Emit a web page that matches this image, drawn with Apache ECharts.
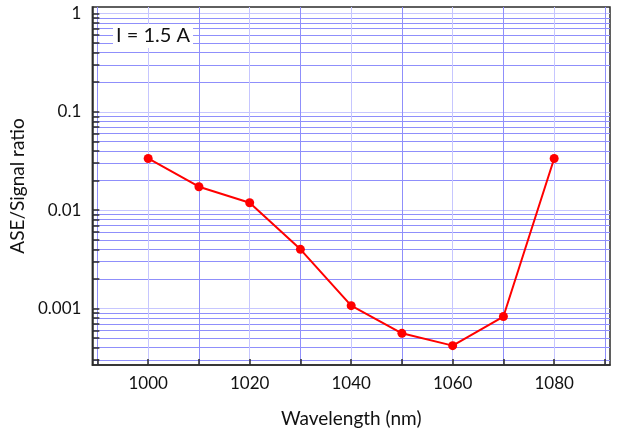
<!DOCTYPE html>
<html>
<head>
<meta charset="utf-8">
<script src="https://cdn.jsdelivr.net/npm/echarts@6/dist/echarts.min.js"></script>
<style>
html,body{margin:0;padding:0;background:#fff;}
#chart{width:619px;height:433px;}
</style>
</head>
<body>
<div id="chart"></div>
<script>
const wavelengths = [1000, 1010, 1020, 1030, 1040, 1050, 1060, 1070, 1080];
const ratios = [0.0335, 0.0173, 0.0119, 0.0040, 0.00107, 0.00056, 0.00042, 0.00083, 0.0335];
const xMajorTicks = [1000, 1020, 1040, 1060, 1080];
const xAllTicks = [990, 1000, 1010, 1020, 1030, 1040, 1050, 1060, 1070, 1080, 1090];
const yMajorTicks = [0.001, 0.01, 0.1, 1];
const yAllTicks = [0.0003, 0.0004, 0.0005, 0.0006, 0.0007, 0.0008, 0.0009, 0.001,
  0.002, 0.003, 0.004, 0.005, 0.006, 0.007, 0.008, 0.009, 0.01,
  0.02, 0.03, 0.04, 0.05, 0.06, 0.07, 0.08, 0.09, 0.1,
  0.2, 0.3, 0.4, 0.5, 0.6, 0.7, 0.8, 0.9, 1];
const xTitle = 'Wavelength (nm)';
const yTitle = 'ASE/Signal ratio';
const annotation = 'I = 1.5 A';

const X_MIN = 989, X_MAX = 1091;
const Y_MIN = 0.000267, Y_MAX = 1.16;
const FONT = 'Lato';
const MAJOR_COLOR = '#c6c6ff';
const MINOR_COLOR = '#8f8ffb';
const AXIS_COLOR = '#2b2b2b';

function gridColors(all, majors) {
  return all.map(v => majors.indexOf(v) >= 0 ? MAJOR_COLOR : MINOR_COLOR);
}

const chart = echarts.init(document.getElementById('chart'), null, {renderer: 'canvas'});
chart.setOption({
  animation: false,
  backgroundColor: '#fff',
  grid: {left: 89, right: 9, top: 7, bottom: 66, show: true,
    borderColor: AXIS_COLOR, borderWidth: 1.5, backgroundColor: 'transparent'},
  xAxis: [{
    type: 'value', min: X_MIN, max: X_MAX,
    axisLine: {show: true, lineStyle: {color: AXIS_COLOR, width: 1.5}},
    axisTick: {show: true, inside: true, length: 6, customValues: xAllTicks,
      lineStyle: {color: AXIS_COLOR, width: 1.5}},
    axisLabel: {show: true, customValues: xMajorTicks, margin: 10, color: '#111',
      fontFamily: FONT, fontSize: 17, formatter: v => String(v)},
    splitLine: {show: true, lineStyle: {color: gridColors(xAllTicks, xMajorTicks), width: 1, type: 'solid'}},
    name: xTitle, nameLocation: 'middle', nameGap: 44,
    nameTextStyle: {color: '#111', fontFamily: FONT, fontSize: 19}
  }],
  yAxis: [{
    type: 'log', logBase: 10, min: Y_MIN, max: Y_MAX,
    axisLine: {show: true, lineStyle: {color: AXIS_COLOR, width: 1.5}},
    axisTick: {show: true, inside: true, length: 7, customValues: yAllTicks,
      lineStyle: {color: AXIS_COLOR, width: 1.5}},
    axisLabel: {show: true, customValues: yMajorTicks, margin: 11, color: '#111',
      fontFamily: FONT, fontSize: 17, formatter: v => String(v)},
    splitLine: {show: true, lineStyle: {color: gridColors(yAllTicks, yMajorTicks), width: 1, type: 'solid'}},
    name: yTitle, nameLocation: 'middle', nameGap: 57,
    nameTextStyle: {color: '#111', fontFamily: FONT, fontSize: 19}
  }],
  graphic: [{
    type: 'text', left: 113, top: 24, z: 50,
    style: {text: annotation, fontFamily: FONT, fontSize: 20, fill: '#111',
      backgroundColor: '#fff', padding: [2, 3, 2, 3]}
  }],
  series: [{
    type: 'line', xAxisIndex: 0, yAxisIndex: 0,
    data: wavelengths.map((w, i) => [w, ratios[i]]),
    symbol: 'circle', symbolSize: 9,
    lineStyle: {color: '#ff0000', width: 2},
    itemStyle: {color: '#ff0000'},
    z: 10
  }]
});
</script>
</body>
</html>
